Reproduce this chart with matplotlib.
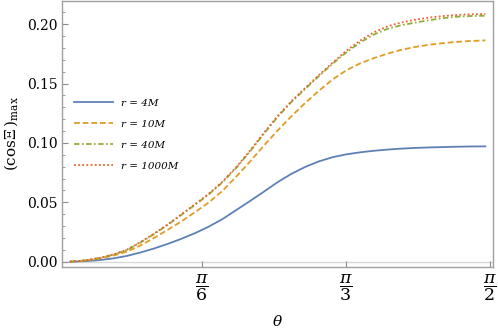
import numpy as np
import matplotlib
matplotlib.use("Agg")
import matplotlib.pyplot as plt
from matplotlib.ticker import FixedLocator, MultipleLocator

theta = [0.045, 0.10, 0.15, 0.20, 0.25, 0.30, 0.35, 0.40, 0.45, 0.50,
         0.55, 0.60, 0.65, 0.70, 0.75, 0.80, 0.85, 0.90, 0.95, 1.00,
         1.05, 1.10, 1.15, 1.20, 1.25, 1.30, 1.35, 1.40, 1.45, 1.50, 1.555]

r4 = [0.0, 0.0005, 0.0013, 0.0027, 0.0048, 0.0077, 0.0111, 0.0150, 0.0193, 0.0241,
      0.0296, 0.0360, 0.0436, 0.0512, 0.0590, 0.0670, 0.0740, 0.0798, 0.0845, 0.0880,
      0.0904, 0.0921, 0.0934, 0.0944, 0.0952, 0.0958, 0.0962, 0.0965, 0.0968, 0.0970, 0.0971]
r10 = [0.0, 0.0010, 0.0026, 0.0050, 0.0083, 0.0135, 0.0200, 0.0268, 0.0340, 0.0418,
       0.0500, 0.0598, 0.0718, 0.0845, 0.0978, 0.1105, 0.1225, 0.1336, 0.1440, 0.1535,
       0.1612, 0.1670, 0.1714, 0.1752, 0.1784, 0.1808, 0.1826, 0.1840, 0.1850, 0.1858, 0.1863]
r40 = [0.0, 0.0011, 0.0030, 0.0058, 0.0097, 0.0160, 0.0232, 0.0310, 0.0395, 0.0480,
       0.0568, 0.0670, 0.0792, 0.0930, 0.1078, 0.1220, 0.1345, 0.1455, 0.1563, 0.1668,
       0.1763, 0.1846, 0.1913, 0.1961, 0.1991, 0.2013, 0.2033, 0.2050, 0.2062, 0.2068, 0.2071]
r1000 = [0.0, 0.0011, 0.0031, 0.0059, 0.0099, 0.0163, 0.0236, 0.0314, 0.0399, 0.0485,
         0.0573, 0.0676, 0.0798, 0.0937, 0.1085, 0.1227, 0.1352, 0.1462, 0.1571, 0.1676,
         0.1776, 0.1862, 0.1932, 0.1982, 0.2014, 0.2037, 0.2055, 0.2068, 0.2077, 0.2083, 0.2085]

labels = ["r = 4M", "r = 10M", "r = 40M", "r = 1000M"]
xtick_vals = [np.pi / 6, np.pi / 3, np.pi / 2]
xtick_labels = [r"$\dfrac{\pi}{6}$", r"$\dfrac{\pi}{3}$", r"$\dfrac{\pi}{2}$"]
ytick_vals = [0.0, 0.05, 0.10, 0.15, 0.20]
ytick_labels = ["0.00", "0.05", "0.10", "0.15", "0.20"]

plt.rcParams["mathtext.fontset"] = "dejavuserif"
plt.rcParams["font.family"] = "DejaVu Serif"

fig = plt.figure(figsize=(4.98, 3.33), dpi=100)
ax = fig.add_axes([62 / 498, 1 - 267 / 333, (492.7 - 62) / 498, (267 - 0.5) / 333])

ax.axhline(0, color="#d8d8d8", lw=1.0, zorder=1)

colors = ["#5E81B5", "#E19C24", "#8FB032", "#EB6235"]
lw = 1.3
ax.plot(theta, r4, color=colors[0], lw=lw, label=labels[0], zorder=3)
ax.plot(theta, r10, color=colors[1], lw=lw, dashes=(3.2, 1.6), label=labels[1], zorder=3)
ax.plot(theta, r40, color=colors[2], lw=lw, dashes=(3.0, 1.4, 0.9, 1.4), label=labels[2], zorder=3)
ax.plot(theta, r1000, color=colors[3], lw=lw, dashes=(1.0, 1.3), label=labels[3], zorder=4)

ax.set_xlim(0.0156, 1.5818)
ax.set_ylim(-0.00446, 0.2199)

ax.xaxis.set_major_locator(FixedLocator(xtick_vals))
ax.set_xticklabels(xtick_labels, fontsize=12.5)
ax.yaxis.set_major_locator(FixedLocator(ytick_vals))
ax.set_yticklabels(ytick_labels, fontsize=10)
ax.yaxis.set_minor_locator(MultipleLocator(0.01))

ax.tick_params(axis="both", which="major", direction="in", length=4, width=0.8,
               color="#8c8c8c", pad=3)
ax.tick_params(axis="y", which="minor", direction="in", length=2.2, width=0.6,
               color="#8c8c8c")
ax.tick_params(axis="x", which="major", pad=4)
for s in ax.spines.values():
    s.set_color("#a0a0a0")
    s.set_linewidth(1.0)

ax.set_xlabel(r"$\theta$", fontsize=11, labelpad=8)
ax.set_ylabel(r"$(\mathrm{cos}\Xi\,)_{\mathrm{max}}$", fontsize=11, labelpad=5)

leg = ax.legend(loc="upper left", bbox_to_anchor=(0.005, 0.667), frameon=False,
                prop={"family": "DejaVu Serif", "style": "italic", "size": 7.5},
                handlelength=3.8, handletextpad=0.8, labelspacing=1.12)

fig.savefig("out.png", dpi=100)
